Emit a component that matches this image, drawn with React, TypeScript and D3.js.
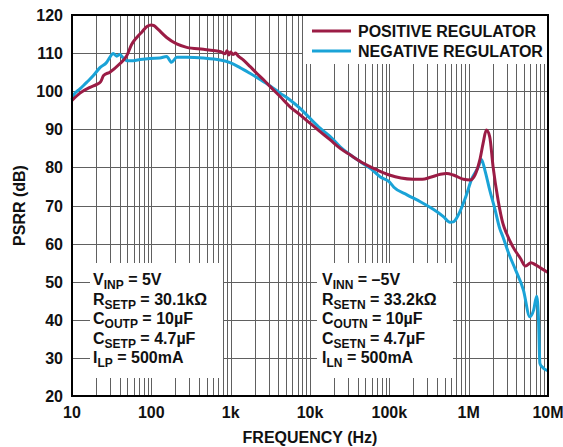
import { useEffect, useRef } from 'react';
import * as d3 from 'd3';

// positive regulator PSRR (Hz, dB)
const POS_FREQ = [
  10, 12.6, 16.9, 20.5, 23, 25, 30, 40, 49, 56.6, 65.5, 75.7, 88, 100, 108, 122, 156, 209, 279, 453,
  605, 750, 850, 900, 950, 1000, 1070, 1150, 1250, 1440, 1750, 2130, 2600, 3150, 4200, 5600, 7500,
  10000, 13400, 18000, 24000, 32000, 47000, 69000, 100000, 140000, 200000, 260000, 330000, 440000,
  530000, 640000, 860000, 1050000, 1200000, 1380000, 1520000, 1670000, 1840000, 2030000, 2350000,
  2700000, 3000000, 3600000, 4500000, 5200000, 6100000, 7000000, 8200000, 10000000,
];
const POS_PSRR = [
  97.6, 99.5, 101.0, 101.8, 102.5, 104.1, 105.0, 107.2, 109.3, 112.3, 114.1, 115.5, 117.0, 117.4, 117.2,
  116.2, 114.1, 112.4, 111.5, 111.0, 110.7, 110.4, 109.8, 110.6, 109.5, 110.3, 109.6, 110.0, 109.2,
  108.2, 106.5, 104.7, 103.0, 101.2, 98.6, 95.9, 93.8, 91.6, 89.4, 87.2, 85.0, 83.3, 81.1, 79.4, 78.0,
  77.2, 76.9, 76.9, 77.4, 78.2, 78.4, 78.0, 76.9, 76.7, 78.0, 81.9, 86.3, 89.8, 88.1, 80.2, 71.4, 65.3,
  62.7, 59.2, 56.1, 54.1, 55.0, 54.4, 53.5, 52.4,
];

// negative regulator PSRR (Hz, dB)
const NEG_FREQ = [
  10, 10.4, 12.6, 15.3, 18.6, 22.5, 27.4, 30, 33, 36.6, 40, 44, 49, 59, 72, 96, 128, 156, 180, 209, 279,
  453, 731, 982, 1310, 1750, 2350, 3150, 4200, 5600, 7500, 10000, 13400, 18000, 24000, 32000, 43000,
  57000, 77000, 100000, 114000, 167000, 246000, 358000, 480000, 580000, 640000, 740000, 905000,
  1100000, 1330000, 1450000, 1600000, 1840000, 2150000, 2460000, 2700000, 3200000, 3900000, 4900000,
  5900000, 6600000, 7200000, 7600000, 7900000, 8200000, 10000000,
];
const NEG_PSRR = [
  97.8, 98.8, 100.6, 102.3, 104.1, 106.2, 107.6, 108.9, 109.9, 109.2, 109.6, 108.8, 108.0, 108.0, 108.3,
  108.6, 108.7, 109.1, 107.6, 108.9, 108.9, 108.7, 108.2, 107.5, 106.2, 104.7, 103.1, 101.4, 99.5, 97.7,
  95.5, 92.9, 90.3, 88.1, 85.4, 83.3, 81.5, 79.8, 77.5, 76.2, 74.8, 72.8, 71.0, 69.0, 67.1, 65.6, 65.7,
  67.5, 71.9, 77.1, 80.2, 82.1, 79.3, 74.1, 68.9, 64.0, 61.8, 57.4, 53.1, 47.8, 40.8, 42.6, 46.2, 39.9,
  28.6, 27.9, 26.6,
];

const Y_TICKS = [20, 30, 40, 50, 60, 70, 80, 90, 100, 110, 120];
const X_TICKS = [10, 100, 1e3, 1e4, 1e5, 1e6, 1e7];
const X_TICK_LABELS = ['10', '100', '1k', '10k', '100k', '1M', '10M'];

const SERIES_NAMES = ['POSITIVE REGULATOR', 'NEGATIVE REGULATOR'];
const SERIES_COLORS = ['#9b1c45', '#1aa3d7'];

const NOTES_POS = [
  ['V', 'INP', ' = 5V'],
  ['R', 'SETP', ' = 30.1kΩ'],
  ['C', 'OUTP', ' = 10µF'],
  ['C', 'SETP', ' = 4.7µF'],
  ['I', 'LP', ' = 500mA'],
];
const NOTES_NEG = [
  ['V', 'INN', ' = –5V'],
  ['R', 'SETN', ' = 33.2kΩ'],
  ['C', 'OUTN', ' = 10µF'],
  ['C', 'SETN', ' = 4.7µF'],
  ['I', 'LN', ' = 500mA'],
];

const W = 563, H = 447;
const M = { left: 72, right: 15, top: 15, bottom: 51 };
const FONT = 'Arial, "Liberation Sans", sans-serif';

export default function App() {
  const svgRef = useRef<SVGSVGElement>(null);

  useEffect(() => {
    if (!svgRef.current) return;
    const svg = d3.select(svgRef.current);
    svg.selectAll('*').remove();

    const x0 = M.left, x1 = W - M.right, y0 = M.top, y1 = H - M.bottom;
    const x = d3.scaleLog().domain([10, 1e7]).range([x0, x1]);
    const y = d3.scaleLinear().domain([20, 120]).range([y1, y0]);

    svg.append('rect').attr('width', W).attr('height', H).attr('fill', '#fff');

    // grid
    const grid = svg.append('g').attr('stroke', '#606060').attr('stroke-width', 1);
    const minor: number[] = [];
    for (let d = 10; d < 1e7; d *= 10) for (let k = 1; k < 10; k++) minor.push(d * k);
    minor.forEach((f) => {
      if (f === 10) return;
      grid.append('line')
        .attr('x1', Math.round(x(f)) + 0.5).attr('x2', Math.round(x(f)) + 0.5)
        .attr('y1', y0).attr('y2', y1);
    });
    Y_TICKS.slice(1, -1).forEach((v) => {
      grid.append('line')
        .attr('x1', x0).attr('x2', x1)
        .attr('y1', Math.round(y(v)) + 0.5).attr('y2', Math.round(y(v)) + 0.5);
    });

    // white boxes over the grid
    const boxes = [
      [303, y0, x1, 64],
      [90, 263, 223, 378],
      [317, 263, 453, 378],
    ];
    boxes.forEach(([bx0, by0, bx1, by1]) => {
      svg.append('rect')
        .attr('x', bx0).attr('y', by0)
        .attr('width', bx1 - bx0).attr('height', by1 - by0)
        .attr('fill', '#fff');
    });

    // curves
    const line = d3.line<[number, number]>()
      .x((d) => x(d[0])).y((d) => y(d[1]))
      .curve(d3.curveMonotoneX);
    const series = [
      POS_FREQ.map((f, i) => [f, POS_PSRR[i]] as [number, number]),
      NEG_FREQ.map((f, i) => [f, NEG_PSRR[i]] as [number, number]),
    ];
    [1, 0].forEach((i) => {
      svg.append('path')
        .attr('d', line(series[i]))
        .attr('fill', 'none')
        .attr('stroke', SERIES_COLORS[i])
        .attr('stroke-width', 3)
        .attr('stroke-linejoin', 'round');
    });

    // frame
    svg.append('rect')
      .attr('x', x0).attr('y', y0)
      .attr('width', x1 - x0).attr('height', y1 - y0)
      .attr('fill', 'none').attr('stroke', '#000').attr('stroke-width', 2);

    // legend
    SERIES_NAMES.forEach((name, i) => {
      const ly = 31 + i * 20;
      svg.append('line')
        .attr('x1', 312).attr('x2', 351).attr('y1', ly).attr('y2', ly)
        .attr('stroke', SERIES_COLORS[i]).attr('stroke-width', 3);
      svg.append('text')
        .attr('x', 358).attr('y', ly + 6)
        .attr('font-family', FONT).attr('font-weight', 'bold').attr('font-size', 16)
        .attr('fill', '#111')
        .text(name);
    });

    // axis labels
    const txt = svg.append('g')
      .attr('font-family', FONT).attr('font-weight', 'bold').attr('font-size', 16).attr('fill', '#111');
    Y_TICKS.forEach((v) => {
      txt.append('text')
        .attr('x', 63).attr('y', y(v) + 6)
        .attr('text-anchor', 'end')
        .text(v);
    });
    X_TICKS.forEach((f, i) => {
      txt.append('text')
        .attr('x', x(f)).attr('y', 418)
        .attr('text-anchor', 'middle')
        .text(X_TICK_LABELS[i]);
    });
    txt.append('text')
      .attr('x', 310).attr('y', 443)
      .attr('text-anchor', 'middle')
      .text('FREQUENCY (Hz)');
    txt.append('text')
      .attr('transform', `translate(25,${(y0 + y1) / 2}) rotate(-90)`)
      .attr('text-anchor', 'middle')
      .text('PSRR (dB)');

    // condition notes
    const notes = (rows: string[][], nx: number) => {
      rows.forEach((r, i) => {
        const t = txt.append('text').attr('x', nx).attr('y', 285 + i * 19.6);
        t.append('tspan').text(r[0]);
        t.append('tspan').attr('font-size', 12).attr('dy', 4).text(r[1]);
        t.append('tspan').attr('dy', -4).text(r[2]);
      });
    };
    notes(NOTES_POS, 93);
    notes(NOTES_NEG, 322);
  }, []);

  return (
    <svg
      ref={svgRef}
      width={W}
      height={H}
      viewBox={`0 0 ${W} ${H}`}
      style={{ position: 'absolute', left: 0, top: 0 }}
    />
  );
}
